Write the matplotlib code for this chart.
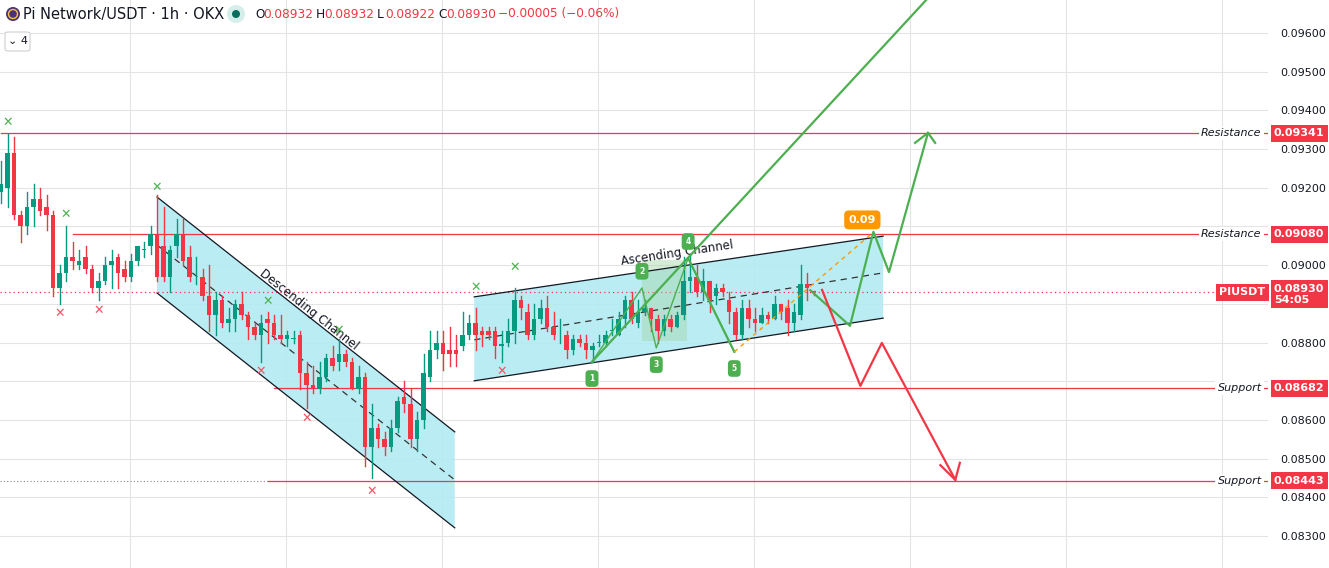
import matplotlib
matplotlib.use("Agg")
import matplotlib.pyplot as plt
from matplotlib.patches import Rectangle, Polygon, Circle, FancyBboxPatch
import matplotlib.transforms as mtrans

# ---------------- data ----------------
opens = [.0919,.0920,.0929,.0913,.0910,.0915,.0917,.0915,.0913,.0894,
         .0898,.0902,.0900,.0902,.0899,.0894,.0896,.0900,.0902,.0899,
         .0897,.0901,.0904,.0905,.0908,.0905,.0897,.0905,.0908,.0902,
         .0897,.0897,.0892,.0887,.0891,.0885,.0886,.0890,.0887,.0884,
         .0882,.0886,.0885,.0882,.0881,.0881,.0882,.0872,.0869,.0868,
         .0871,.0876,.0875,.0877,.0875,.0868,.0871,.0853,.0858,.0855,
         .0853,.0858,.0866,.0864,.0855,.0860,.0871,.0878,.0880,.0878,
         .0878,.0879,.0882,.0885,.0883,.0883,.0883,.0879,.0880,.0883,
         .0891,.0888,.0882,.0886,.0889,.0884,.0882,.0882,.0878,.0881,
         .0880,.0878,.0880,.0880,.0883,.0882,.0886,.0891,.0885,.0888,
         .0889,.0886,.0883,.0886,.0884,.0887,.0896,.0897,.0893,.0896,
         .0892,.0894,.0891,.0888,.0882,.0889,.0886,.0885,.0887,.0886,
         .0890,.0889,.0885,.0887,.0895,.08932]
highs = [.0927,.0934,.0933,.0914,.0919,.0921,.0920,.0918,.0914,.0900,
         .0910,.0906,.0904,.0905,.0900,.0898,.0902,.0904,.0903,.0901,
         .0903,.0905,.0906,.0910,.0918,.0915,.0905,.0912,.0912,.0905,
         .0902,.0899,.0900,.0893,.0892,.0889,.0891,.0893,.0888,.0885,
         .0887,.0888,.0887,.0887,.0883,.0883,.0883,.0875,.0874,.0875,
         .0877,.0879,.0881,.0878,.0876,.0874,.0872,.0864,.0859,.0857,
         .0860,.0866,.0870,.0868,.0862,.0877,.0883,.0883,.0883,.0884,
         .0882,.0888,.0887,.0889,.0884,.0884,.0884,.0883,.0886,.0894,
         .0892,.0890,.0890,.0891,.0892,.0888,.0886,.0883,.0882,.0882,
         .0882,.0880,.0882,.0883,.0886,.0888,.0892,.0893,.0891,.0891,
         .0889,.0887,.0887,.0887,.0888,.0902,.0903,.0900,.0899,.0896,
         .0895,.0895,.0893,.0889,.0891,.0891,.0889,.0889,.0888,.0892,
         .0890,.0891,.0890,.0900,.0898,.08932]
lows  = [.0916,.0915,.0912,.0906,.0908,.0910,.0913,.0909,.0892,.0890,
         .0896,.0899,.0899,.0898,.0893,.0891,.0895,.0894,.0894,.0896,
         .0896,.0900,.0902,.0903,.0896,.0896,.0893,.0902,.0900,.0896,
         .0895,.0891,.0883,.0882,.0884,.0883,.0883,.0886,.0881,.0881,
         .0875,.0880,.0881,.0880,.0879,.0880,.0868,.0863,.0867,.0867,
         .0870,.0873,.0873,.0874,.0868,.0867,.0848,.0845,.0853,.0851,
         .0852,.0857,.0862,.0853,.0852,.0858,.0870,.0876,.0873,.0874,
         .0874,.0878,.0881,.0878,.0879,.0881,.0876,.0875,.0879,.0880,
         .0886,.0881,.0881,.0885,.0883,.0881,.0880,.0876,.0877,.0879,
         .0876,.0875,.0879,.0879,.0882,.0882,.0884,.0885,.0884,.0887,
         .0883,.0880,.0882,.0883,.0884,.0886,.0893,.0892,.0891,.0888,
         .0890,.0892,.0885,.0881,.0881,.0884,.0883,.0885,.0885,.0886,
         .0886,.0882,.0883,.0886,.0891,.08922]
closes = [.0921,.0929,.0913,.0910,.0915,.0917,.0914,.0913,.0894,.0898,
          .0902,.0901,.0901,.0899,.0894,.0896,.0900,.0901,.0898,.0897,
          .0901,.0905,.0904,.0908,.0897,.0897,.0904,.0908,.0901,.0897,
          .0897,.0892,.0887,.0891,.0885,.0886,.0890,.0887,.0884,.0882,
          .0885,.0885,.0882,.0881,.0882,.0881,.0872,.0869,.0868,.0871,
          .0876,.0874,.0877,.0875,.0868,.0871,.0853,.0858,.0855,.0853,
          .0858,.0865,.0864,.0855,.0860,.0872,.0878,.0880,.0877,.0877,
          .0877,.0882,.0885,.0882,.0882,.0882,.0879,.08795,.0883,.0891,
          .0889,.0882,.0886,.0889,.0884,.0882,.0882,.0878,.0881,.0880,
          .0878,.0879,.0880,.0882,.08832,.0886,.0891,.0886,.0888,.0889,
          .0886,.0883,.0886,.0884,.0887,.0896,.0897,.0893,.0896,.0891,
          .0894,.0893,.0888,.0882,.0889,.0886,.0885,.0887,.0886,.0890,
          .0888,.0885,.0888,.0895,.0894,.08930]

price_levels = [0.09341, 0.09080, 0.08682, 0.08443]
level_names = ["Resistance", "Resistance", "Support", "Support"]
level_start = [0, 11, 42, 41]          # candle index where each line starts
last_price = 0.08930
tick_prices = [0.0830 + 0.001 * k for k in range(14)]
hidden_ticks = ["0.09100", "0.08900", "0.08700"]   # covered by price tags

green_x = [(1, .09370), (24, .09202), (10, .09130), (41, .08907), (52, .08832), (73, .08943), (79, .08995)]
red_x = [(9, .08874), (15, .08884), (40, .08724), (47, .08605), (57, .08416), (77, .08724)]

desc_ch = dict(i=(24.0, 69.8), up=(.09176, .08569), lo=(.08928, .08321), mid=(.09052, .08445))
asc_ch = dict(i=(72.8, 135.7), up=(.08918, .09075), lo=(.08701, .08863), mid=(.08807, .08980))
wave_i = [90.9, 98.6, 100.8, 105.7, 112.8]
wave_p = [.08750, .08941, .08786, .09018, .08776]
green_path_i = [124.5, 130.6, 134.2, 136.6, 142.6]
green_path_p = [.08935, .08843, .09086, .08982, .09342]
red_path_i = [126.3, 132.2, 135.5, 146.8]
red_path_p = [.08936, .08688, .08799, .08445]

GREEN = "#089981"
RED = "#f23645"

W, H = 1329, 568
fig = plt.figure(figsize=(W / 100, H / 100), dpi=100)
fig.patch.set_facecolor("white")
ax = fig.add_axes([0, 0, 1268 / W, 1])
ax.set_xlim(-0.154, 194.9)
ax.set_ylim(0.082172, 0.096853)
for s in ax.spines.values():
    s.set_visible(False)
ax.set_xticks([19.85 + 24 * k for k in range(8)])
ax.tick_params(axis="x", length=0, labelbottom=False)
ax.yaxis.tick_right()
ax.set_yticks(tick_prices)
labels = [f"{p:.5f}" for p in tick_prices]
ax.set_yticklabels(["" if l in hidden_ticks else l for l in labels])
ax.tick_params(axis="y", length=0, pad=9, labelsize=8, labelcolor="#131722")
ax.grid(True, color="#e4e4e4", lw=0.8)
ax.set_axisbelow(True)

# channels
def channel(ch, label, rot, lab_pos):
    i0, i1 = ch["i"]
    poly = Polygon([(i0, ch["up"][0]), (i1, ch["up"][1]), (i1, ch["lo"][1]), (i0, ch["lo"][0])],
                   closed=True, fc="#b2ebf2", ec="none", alpha=0.9, zorder=1)
    ax.add_patch(poly)
    ax.plot([i0, i1], ch["up"], color="#131722", lw=0.9, zorder=3)
    ax.plot([i0, i1], ch["lo"], color="#131722", lw=0.9, zorder=3)
    ax.plot([i0, i1], ch["mid"], color="#333", lw=0.9, ls=(0, (5, 4)), zorder=3)
    ax.text(lab_pos[0], lab_pos[1], label, rotation=rot, fontsize=8.5, color="#131722",
            ha="center", va="center", rotation_mode="anchor", zorder=6)

channel(desc_ch, "Descending Channel", -38.3, (47.4, .08886))
channel(asc_ch, "Ascending Channel", 8.5, (104.0, .09030))

# horizontal levels
trans_ax = mtrans.blended_transform_factory(ax.transAxes, ax.transData)
ax.plot([-0.154, 41], [price_levels[3]] * 2, color="#888", lw=0.8, ls=(0, (1, 2)), zorder=2)
for lvl, nm, st in zip(price_levels, level_names, level_start):
    ax.plot([st, 194.9], [lvl, lvl], color=RED, lw=0.9, zorder=2)
    ax.text(0.995, lvl, nm, transform=trans_ax, ha="right", va="center", fontsize=8,
            style="italic", color="#131722", zorder=7,
            bbox=dict(fc="white", ec="none", pad=1.5))
    ax.text(1.0 + 6 / 1268, lvl, f"{lvl:.5f}", transform=trans_ax, ha="left", va="center",
            fontsize=8, color="white", fontweight="bold", clip_on=False, zorder=8,
            bbox=dict(fc=RED, ec="none", boxstyle="square,pad=0.3"))
ax.axhline(last_price, color=RED, lw=0.9, ls=(0, (1, 2.5)), zorder=2)
ax.text(1.0 + 6 / 1268, last_price + 0.00022, f"{last_price:.5f}\n54:05", transform=trans_ax, ha="left",
        va="top", fontsize=8, color="white", fontweight="bold", clip_on=False, zorder=8,
        linespacing=1.15, bbox=dict(fc=RED, ec="none", boxstyle="square,pad=0.3"))
ax.text(0.998, last_price, "PIUSDT", transform=trans_ax, ha="right", va="center",
        fontsize=8, color="white", fontweight="bold", zorder=8,
        bbox=dict(fc=RED, ec="none", boxstyle="square,pad=0.3"))

# candles
for k, (o, h, l, c) in enumerate(zip(opens, highs, lows, closes)):
    col = GREEN if c >= o else RED
    ax.plot([k, k], [l, h], color=col, lw=1.0, zorder=4)
    bot, top = min(o, c), max(o, c)
    ax.add_patch(Rectangle((k - 0.36, bot), 0.72, max(top - bot, 0.000006), fc=col, ec="none", zorder=5))

# x markers
for i, p in green_x:
    ax.text(i, p, "✕", color="#4caf50", fontsize=9, ha="center", va="center", fontweight="bold", zorder=6)
for i, p in red_x:
    ax.text(i, p, "✕", color="#f7525f", fontsize=9, ha="center", va="center", fontweight="bold", zorder=6)

# wave pattern
ax.add_patch(Rectangle((wave_i[1], .08805), 7.0, .00207, fc="#a5d6a7", ec="none", alpha=0.45, zorder=2))
ax.plot(wave_i, wave_p, color="#4caf50", lw=1.0, zorder=6)
ax.plot([wave_i[0], 142.3], [wave_p[0], .09685], color="#4caf50", lw=1.6, zorder=6, clip_on=True)
ax.plot([wave_i[3], wave_i[4]], [wave_p[3], wave_p[4]], color="#4caf50", lw=1.6, zorder=6)
ax.plot([wave_i[4], 133.7], [wave_p[4], .09078], color="#ff9800", lw=1.0, ls=(0, (3, 3)), zorder=6)
for n, (i, p) in enumerate(zip(wave_i, wave_p)):
    dy = -12 if n % 2 == 0 else 12
    ax.annotate(str(n + 1), (i, p), xytext=(0, dy), textcoords="offset points", ha="center",
                va="center", fontsize=5.5, color="white", fontweight="bold", zorder=9,
                bbox=dict(boxstyle="round,pad=0.5", fc="#4caf50", ec="none"))
ax.text(132.5, .09117, "0.09", ha="center", va="center", fontsize=8, color="white",
        fontweight="bold", zorder=9, bbox=dict(boxstyle="round,pad=0.4", fc="#ff9800", ec="none"))

# scenario paths
ax.plot(green_path_i, green_path_p, color="#4caf50", lw=1.6, zorder=6)
ax.plot([140.6, green_path_i[-1], 143.7], [.09316, green_path_p[-1], .09316], color="#4caf50", lw=1.6, zorder=6)
ax.plot(red_path_i, red_path_p, color=RED, lw=1.6, zorder=6)
ax.plot([144.5, red_path_i[-1], 147.5], [.08483, red_path_p[-1], .08489], color=RED, lw=1.6, zorder=6)

# header (circles drawn in pixel coordinates so they stay round)
def pcircle(x, y, r, **kw):
    c = Circle((x, H - y), r, transform=mtrans.IdentityTransform(), **kw)
    fig.patches.append(c)

pcircle(13, 14, 7, fc="#4a2f7a", ec="none", zorder=10)
pcircle(13, 14, 4.5, fc="none", ec="#f5c542", lw=1, zorder=11)
fig.text(23 / W, 1 - 14 / H, "Pi Network/USDT · 1h · OKX", fontsize=10.5, color="#131722", va="center")
pcircle(236, 14, 9, fc="#d6eee9", ec="none", zorder=10)
pcircle(236, 14, 4, fc="#0a6e5c", ec="none", zorder=11)
x0 = 255
for lab, val in [("O", "0.08932"), ("H", "0.08932"), ("L", "0.08922"), ("C", "0.08930")]:
    fig.text(x0 / W, 1 - 14 / H, lab, fontsize=8.7, color="#131722", va="center")
    fig.text((x0 + 8) / W, 1 - 14 / H, val, fontsize=8.7, color=RED, va="center")
    x0 += 61
fig.text((x0 - 1) / W, 1 - 14 / H, "−0.00005 (−0.06%)", fontsize=8.7, color=RED, va="center")
fig.patches.append(FancyBboxPatch((5 / W, 1 - 51 / H), 25 / W, 19 / H, transform=fig.transFigure,
                                  boxstyle="round,pad=0,rounding_size=0.003", fc="white",
                                  ec="#d0d0d0", lw=0.8, zorder=10))
fig.text(17.5 / W, 1 - 41 / H, "⌄ 4", fontsize=8, color="#131722", ha="center", va="center", zorder=11)

fig.savefig("out.png", dpi=100)
